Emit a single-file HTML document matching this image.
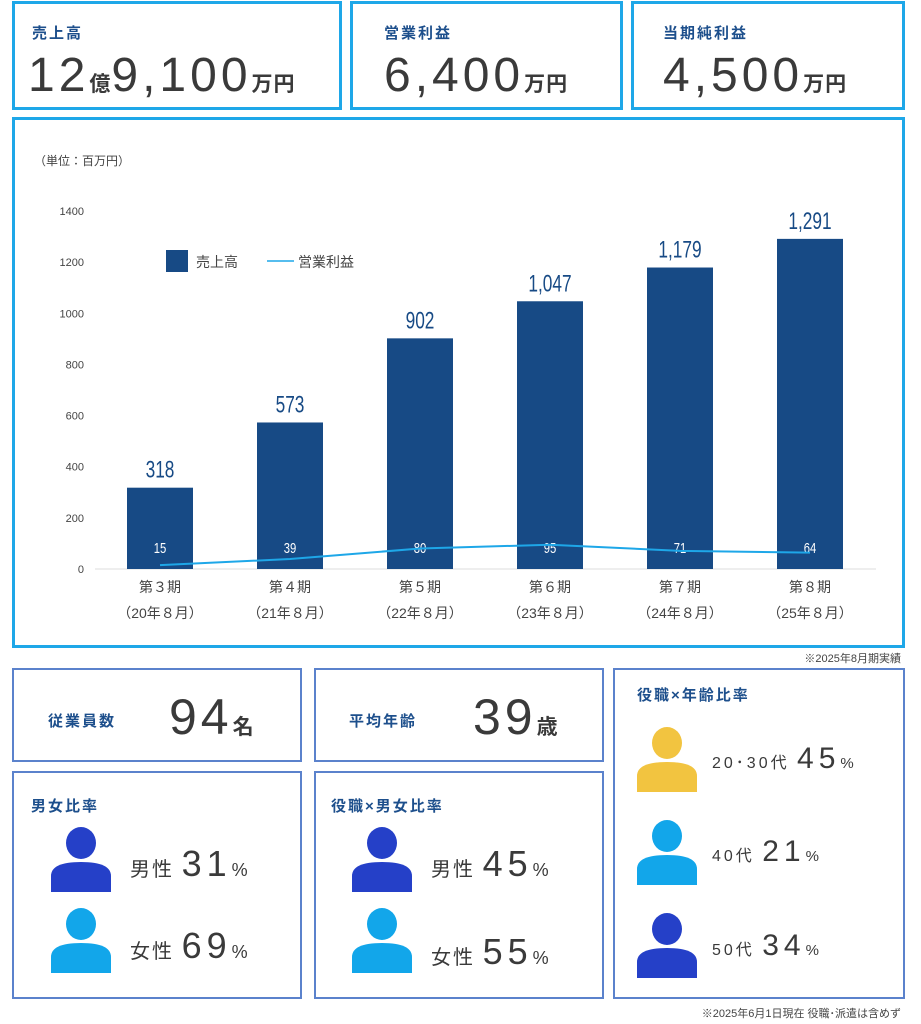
<!DOCTYPE html>
<html><head><meta charset="utf-8"><style>
body{margin:0;width:921px;height:1024px;background:#fff;font-family:"Liberation Sans","Noto Sans CJK JP",sans-serif;position:relative;overflow:hidden}
.b{position:absolute;box-sizing:border-box}
.t{border:3px solid #1ea7e8}
.l{border:2px solid #5b82cc}
.ttl{position:absolute;color:#1d4f8c;font-weight:bold;font-size:15px;letter-spacing:2px}
.big{position:absolute;color:#3a3a3a;font-size:48px;letter-spacing:4px;font-weight:500}
.big small{font-size:21px;font-weight:bold;letter-spacing:1px}
.pct{position:absolute;color:#3a3a3a;font-size:20px;letter-spacing:2px}
.pct b{font-size:36px;font-weight:normal;letter-spacing:5px}
.pct i{font-style:normal;font-size:18px}
</style></head><body>
<div class="b t" style="left:12px;top:1px;width:330px;height:109px">
<div class="ttl" style="left:17px;top:18px">売上高</div>
<div class="big" style="left:13px;top:44px">12<small>億</small>9,100<small>万円</small></div></div>
<div class="b t" style="left:350px;top:1px;width:273px;height:109px">
<div class="ttl" style="left:31px;top:18px">営業利益</div>
<div class="big" style="left:31px;top:44px">6,400<small>万円</small></div></div>
<div class="b t" style="left:631px;top:1px;width:274px;height:109px">
<div class="ttl" style="left:29px;top:18px">当期純利益</div>
<div class="big" style="left:29px;top:44px">4,500<small>万円</small></div></div>
<div class="b t" style="left:12px;top:117px;width:893px;height:531px"></div>
<svg id="chart" width="921" height="660" style="position:absolute;left:0;top:0"></svg>
<div style="position:absolute;right:20px;top:650px;font-size:11px;color:#444">※2025年8月期実績</div>

<div class="b l" style="left:12px;top:668px;width:290px;height:94px">
<div class="ttl" style="left:34px;top:40px;font-size:15px">従業員数</div>
<div class="big" style="left:155px;top:18px;font-size:50px">94<small>名</small></div></div>
<div class="b l" style="left:314px;top:668px;width:290px;height:94px">
<div class="ttl" style="left:33px;top:40px">平均年齢</div>
<div class="big" style="left:157px;top:18px;font-size:50px">39<small>歳</small></div></div>

<div class="b l" style="left:12px;top:771px;width:290px;height:228px">
<div class="ttl" style="left:17px;top:22px">男女比率</div></div>
<div class="b l" style="left:314px;top:771px;width:290px;height:228px">
<div class="ttl" style="left:15px;top:22px">役職×男女比率</div></div>
<div class="b l" style="left:613px;top:668px;width:292px;height:331px">
<div class="ttl" style="left:22px;top:14px">役職×年齢比率</div></div>

<svg width="921" height="1024" style="position:absolute;left:0;top:0">
<defs><g id="p"><ellipse cx="30" cy="15" rx="15" ry="16"/><path d="M0 64 V48 Q0 34 30 34 Q60 34 60 48 V64Z"/></g></defs>
<use href="#p" x="51" y="828" fill="#2540c8"/><use href="#p" x="51" y="909" fill="#12a6ea"/>
<use href="#p" x="352" y="828" fill="#2540c8"/><use href="#p" x="352" y="909" fill="#12a6ea"/>
<use href="#p" x="637" y="728" fill="#f2c440"/><use href="#p" x="637" y="821" fill="#12a6ea"/><use href="#p" x="637" y="914" fill="#2540c8"/>
</svg>
<div class="pct" style="left:130px;top:843px">男性 <b>31</b><i>%</i></div>
<div class="pct" style="left:130px;top:925px">女性 <b>69</b><i>%</i></div>
<div class="pct" style="left:431px;top:843px">男性 <b>45</b><i>%</i></div>
<div class="pct" style="left:431px;top:931px">女性 <b>55</b><i>%</i></div>
<div class="pct" style="left:712px;top:742px;font-size:16px;letter-spacing:3px">20･30代 <b style="font-size:30px">45</b><i style="font-size:15px">%</i></div>
<div class="pct" style="left:712px;top:835px;font-size:16px;letter-spacing:3px">40代 <b style="font-size:30px">21</b><i style="font-size:15px">%</i></div>
<div class="pct" style="left:712px;top:929px;font-size:16px;letter-spacing:3px">50代 <b style="font-size:30px">34</b><i style="font-size:15px">%</i></div>
<div style="position:absolute;right:20px;top:1005px;font-size:11px;color:#444">※2025年6月1日現在 役職･派遣は含めず</div>

<script>
const categories=["第３期","第４期","第５期","第６期","第７期","第８期"];
const periods=["（20年８月）","（21年８月）","（22年８月）","（23年８月）","（24年８月）","（25年８月）"];
const sales=[318,573,902,1047,1179,1291];
const salesLabels=["318","573","902","1,047","1,179","1,291"];
const profit=[15,39,80,95,71,64];
const ticks=[0,200,400,600,800,1000,1200,1400];
const svg=document.getElementById('chart');
const NS="http://www.w3.org/2000/svg";
const y=v=>569-v*358/1400;
const x=i=>160+i*130;
function mk(t,a,txt){const e=document.createElementNS(NS,t);for(const k in a)e.setAttribute(k,a[k]);if(txt!=null)e.textContent=txt;svg.appendChild(e);return e;}
let e=mk('text',{x:34,y:165,'font-size':12,fill:'#444'},'（単位：百万円）');

ticks.forEach(t=>{const e=mk('text',{x:84,y:y(t)+4,'text-anchor':'end','font-size':11,fill:'#444'},t);
});
e=mk('line',{x1:95,x2:876,y1:569,y2:569,stroke:'#ddd'});

sales.forEach((v,i)=>{
const r=mk('rect',{x:x(i)-33,y:y(v),width:66,height:569-y(v),fill:'#174a85'});

const l=mk('text',{x:0,y:0,'text-anchor':'middle','font-size':24,fill:'#174a85',transform:`translate(${x(i)},${y(v)-10}) scale(0.72,1)`},salesLabels[i]);

const c=mk('text',{x:x(i),y:592,'text-anchor':'middle','font-size':14,fill:'#444'},categories[i]);

const p=mk('text',{x:x(i),y:618,'text-anchor':'middle','font-size':14,fill:'#444'},periods[i]);

const pl=mk('text',{x:0,y:0,'text-anchor':'middle','font-size':15,fill:'#fff',transform:`translate(${x(i)},${y(0)-16}) scale(0.75,1)`},profit[i]);

});
e=mk('polyline',{points:profit.map((v,i)=>x(i)+','+y(v)).join(' '),fill:'none',stroke:'#1ea7e8','stroke-width':2});

e=mk('rect',{x:166,y:250,width:22,height:22,fill:'#174a85'});

e=mk('text',{x:196,y:267,'font-size':14,fill:'#444'},'売上高');

e=mk('line',{x1:267,x2:294,y1:261,y2:261,stroke:'#1ea7e8','stroke-width':1.5});

e=mk('text',{x:298,y:267,'font-size':14,fill:'#444'},'営業利益');

</script>
</body></html>
